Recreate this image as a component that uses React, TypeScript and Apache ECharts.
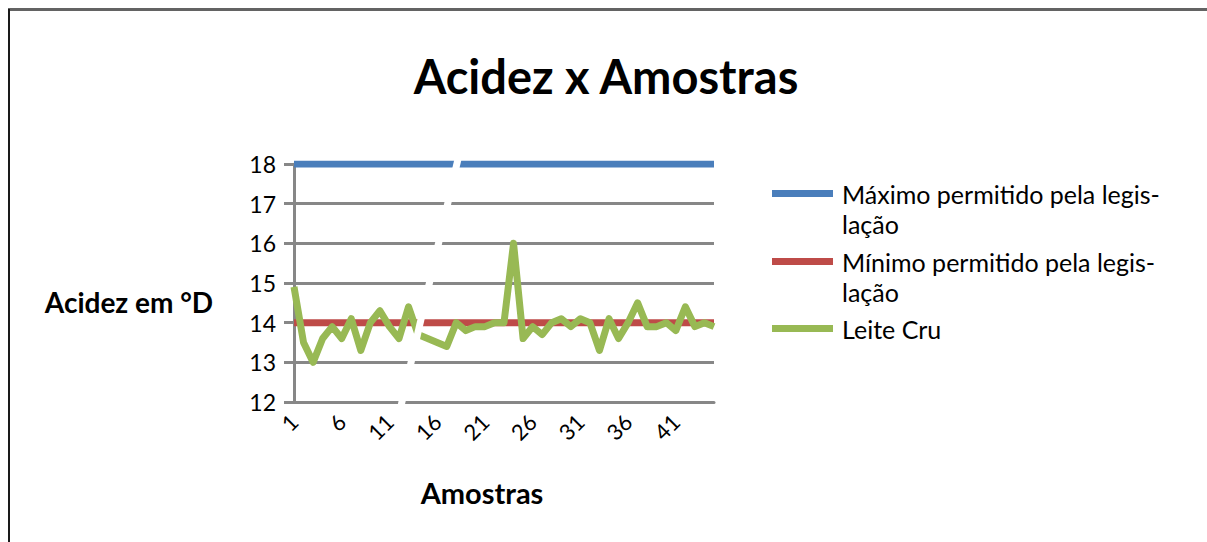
import React, { useEffect, useRef } from "react";
import * as echarts from "echarts";

// Sample numbers along the category axis
const amostras = [
  "1", "2", "3", "4", "5", "6", "7", "8", "9", "10",
  "11", "12", "13", "14", "15", "16", "17", "18", "19", "20",
  "21", "22", "23", "24", "25", "26", "27", "28", "29", "30",
  "31", "32", "33", "34", "35", "36", "37", "38", "39", "40",
  "41", "42", "43", "44", "45",
];

// Legal limits (°D)
const maximoLegal = [
  18, 18, 18, 18, 18, 18, 18, 18, 18, 18,
  18, 18, 18, 18, 18, 18, 18, 18, 18, 18,
  18, 18, 18, 18, 18, 18, 18, 18, 18, 18,
  18, 18, 18, 18, 18, 18, 18, 18, 18, 18,
  18, 18, 18, 18, 18,
];
const minimoLegal = [
  14, 14, 14, 14, 14, 14, 14, 14, 14, 14,
  14, 14, 14, 14, 14, 14, 14, 14, 14, 14,
  14, 14, 14, 14, 14, 14, 14, 14, 14, 14,
  14, 14, 14, 14, 14, 14, 14, 14, 14, 14,
  14, 14, 14, 14, 14,
];

// Measured acidity of raw milk samples (°D)
const leiteCru = [
  14.9, 13.5, 13.0, 13.6, 13.9, 13.6, 14.1, 13.3, 14.0, 14.3,
  13.9, 13.6, 14.4, 13.7, 13.6, 13.5, 13.4, 14.0, 13.8, 13.9,
  13.9, 14.0, 14.0, 16.0, 13.6, 13.9, 13.7, 14.0, 14.1, 13.9,
  14.1, 14.0, 13.3, 14.1, 13.6, 14.0, 14.5, 13.9, 13.9, 14.0,
  13.8, 14.4, 13.9, 14.0, 13.9,
];

const seriesNames = [
  "Máximo permitido pela legislação",
  "Mínimo permitido pela legislação",
  "Leite Cru",
];
const legendTexts = [
  "Máximo permitido pela legis-\nlação",
  "Mínimo permitido pela legis-\nlação",
  "Leite Cru",
];
const seriesColors = ["#4a7ebb", "#be4b48", "#98b954"];

const FONT = "Lato, 'Open Sans', sans-serif";
const GRID_COLOR = "#878787";

export default function App() {
  const ref = useRef<HTMLDivElement>(null);

  useEffect(() => {
    if (!ref.current) return;
    const chart = echarts.init(ref.current, undefined, { renderer: "svg" });

    const seriesData = [maximoLegal, minimoLegal, leiteCru];
    const legendTops = [179, 247, 314];
    const markerCenters = [193.5, 261.5, 328.5];

    const legendGraphics: any[] = [];
    seriesNames.forEach((name, i) => {
      legendGraphics.push({
        type: "rect",
        shape: { x: 772, y: markerCenters[i] - 3.5, width: 61, height: 7 },
        style: { fill: seriesColors[i] },
        silent: true,
      });
      legendGraphics.push({
        type: "text",
        x: 842,
        y: legendTops[i],
        style: {
          text: legendTexts[i],
          font: `25px ${FONT}`,
          fill: "#000",
          lineHeight: 30,
          align: "left",
          verticalAlign: "top",
          textAlign: "left",
          textVerticalAlign: "top",
        },
        silent: true,
      });
    });

    const centeredText = (text: string, x: number, y: number, font: string) => ({
      type: "text",
      x,
      y,
      style: {
        text,
        font,
        fill: "#000",
        align: "center",
        verticalAlign: "middle",
        textAlign: "center",
        textVerticalAlign: "middle",
      },
      silent: true,
    });

    chart.setOption({
      animation: false,
      backgroundColor: "#fff",
      grid: { left: 294, top: 164, width: 420, height: 238, containLabel: false },
      xAxis: {
        type: "category",
        data: amostras,
        boundaryGap: false,
        axisLine: { show: true, lineStyle: { color: GRID_COLOR, width: 3 } },
        axisTick: { show: false },
        axisLabel: {
          interval: 4,
          rotate: 45,
          margin: 16,
          color: "#000",
          fontFamily: FONT,
          fontSize: 22,
        },
        splitLine: { show: false },
      },
      yAxis: {
        type: "value",
        min: 12,
        max: 18,
        interval: 1,
        axisLine: { show: true, lineStyle: { color: GRID_COLOR, width: 3 } },
        axisTick: { show: true, length: 10, lineStyle: { color: GRID_COLOR, width: 3 } },
        axisLabel: {
          margin: 18,
          color: "#000",
          fontFamily: FONT,
          fontSize: 23,
        },
        splitLine: { show: true, lineStyle: { color: GRID_COLOR, width: 3 } },
      },
      series: seriesNames.map((name, i) => ({
        name,
        type: "line",
        data: seriesData[i],
        showSymbol: false,
        symbol: "none",
        lineStyle: { color: seriesColors[i], width: 7, join: "round" },
        itemStyle: { color: seriesColors[i] },
        z: 2 + i,
      })),
      graphic: [
        // outer frame
        {
          type: "line",
          shape: { x1: 8, y1: 9.5, x2: 1207, y2: 9.5 },
          style: { stroke: "#636363", lineWidth: 3 },
          silent: true,
        },
        {
          type: "line",
          shape: { x1: 9, y1: 9, x2: 9, y2: 542 },
          style: { stroke: "#1a1a1a", lineWidth: 2 },
          silent: true,
        },
        centeredText("Acidez x Amostras", 606, 76, `bold 47px ${FONT}`),
        centeredText("Acidez em °D", 129, 302, `bold 28px ${FONT}`),
        centeredText("Amostras", 482, 492, `bold 29px ${FONT}`),
        ...legendGraphics,
        // light crease running across the plot
        {
          type: "line",
          shape: { x1: 458, y1: 159, x2: 401, y2: 406 },
          style: { stroke: "#ffffff", lineWidth: 7 },
          z: 100,
          silent: true,
        },
      ],
    });

    return () => chart.dispose();
  }, []);

  return (
    <div
      ref={ref}
      style={{ position: "fixed", left: 0, top: 0, width: 1207, height: 542, background: "#fff" }}
    />
  );
}
